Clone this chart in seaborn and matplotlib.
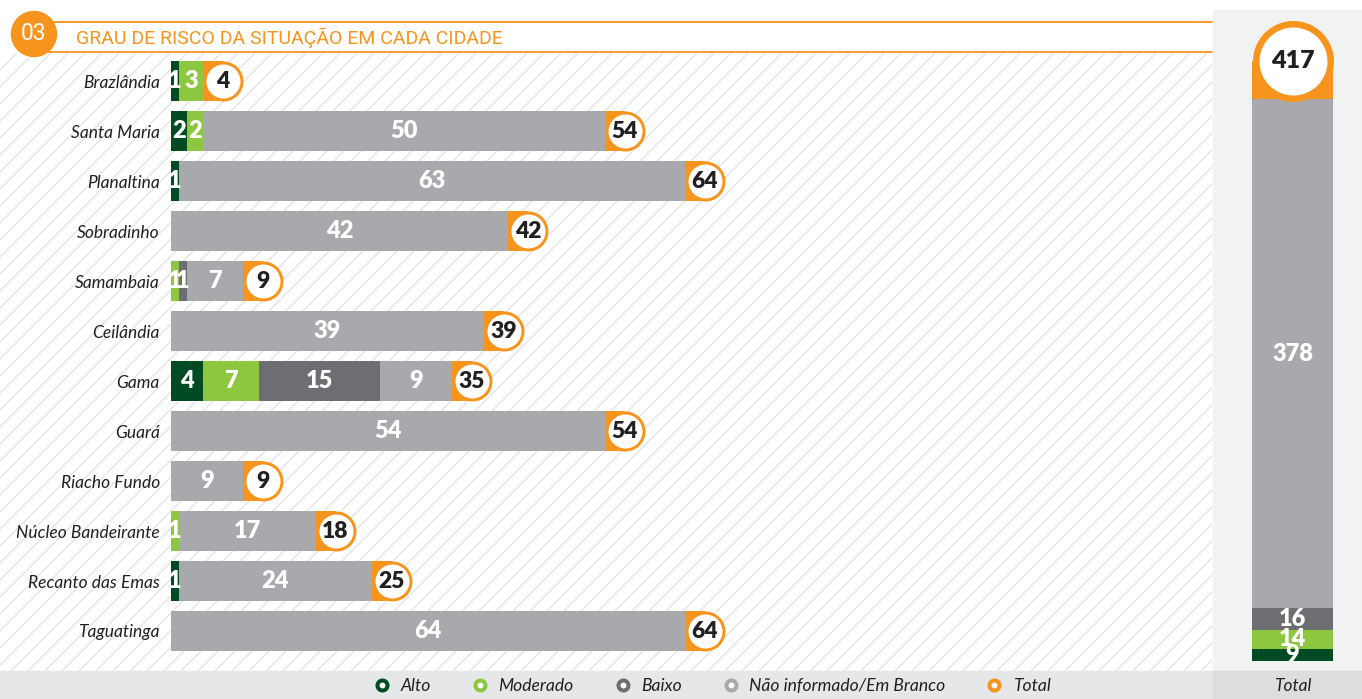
import numpy as np
import pandas as pd
import matplotlib
matplotlib.use("Agg")
import matplotlib.pyplot as plt
import seaborn as sns
from matplotlib.transforms import offset_copy
from matplotlib.patches import Rectangle, Circle
from matplotlib.lines import Line2D

# ---------------- data ----------------
cities = ["Brazlândia", "Santa Maria", "Planaltina", "Sobradinho", "Samambaia",
          "Ceilândia", "Gama", "Guará", "Riacho Fundo", "Núcleo Bandeirante",
          "Recanto das Emas", "Taguatinga"]
alto = [1, 2, 1, 0, 0, 0, 4, 0, 0, 0, 1, 0]
moderado = [3, 2, 0, 0, 1, 0, 7, 0, 0, 1, 0, 0]
baixo = [0, 0, 0, 0, 1, 0, 15, 0, 0, 0, 0, 0]
nao_informado = [0, 50, 63, 42, 7, 39, 9, 54, 9, 17, 24, 64]
totals = [4, 54, 64, 42, 9, 39, 35, 54, 9, 18, 25, 64]

series_names = ["Alto", "Moderado", "Baixo", "Não informado/Em Branco", "Total"]
overall = {"Alto": 9, "Moderado": 14, "Baixo": 16, "Não informado/Em Branco": 378}
grand_total = 417

title = "GRAU DE RISCO DA SITUAÇÃO EM CADA CIDADE"
section_no = "03"
total_label = "Total"

# ---------------- style ----------------
C_ALTO = "#004b23"
C_MOD = "#8dc63f"
C_BAIXO = "#6d6e71"
C_NAO = "#a7a9ac"
C_ORANGE = "#f7941d"
colors = [C_ALTO, C_MOD, C_BAIXO, C_NAO, C_ORANGE]
TXT = "#231f20"
NUM_W = "heavy"

sns.set_theme(style="white")
plt.rcParams["font.family"] = ["Lato", "DejaVu Sans"]

W, H = 1362, 699
fig = plt.figure(figsize=(W / 100, H / 100), dpi=100)
fig.patch.set_facecolor("white")


def px_rect(x0, y0, x1, y1):
    return [x0 / W, 1 - y1 / H, (x1 - x0) / W, (y1 - y0) / H]


PT = 0.72  # points per pixel at 100 dpi

# ---------------- background ----------------
bg = fig.add_axes([0, 0, 1, 1])
bg.set_xlim(0, W)
bg.set_ylim(H, 0)
bg.axis("off")

hx0, hy0, hx1, hy1 = 0, 53, 1212, 671
clip = Rectangle((hx0, hy0), hx1 - hx0, hy1 - hy0, transform=bg.transData,
                 facecolor="none", edgecolor="none")
bg.add_patch(clip)
span = hy1 - hy0
for x in np.arange(hx0 - span, hx1 + 20, 17):
    ln, = bg.plot([x, x + span], [hy1, hy0], color="#e2e2e2", lw=0.9, zorder=0)
    ln.set_clip_path(clip)

bg.add_patch(Rectangle((0, 671), 1212, H - 671, color="#e6e7e8", zorder=1))
bg.add_patch(Rectangle((1213, 10), W - 1213, 661, color="#f1f2f2", zorder=1))
bg.add_patch(Rectangle((1213, 671), W - 1213, H - 671, color="#dcddde", zorder=1))

# header
bg.plot([34, 1212], [22, 22], color=C_ORANGE, lw=1.3, zorder=2)
bg.plot([34, 1212], [52, 52], color=C_ORANGE, lw=1.3, zorder=2)
bg.add_patch(Circle((34, 34), 22.5, color=C_ORANGE, zorder=3))
bg.text(34, 34, section_no, color="white", fontsize=16.5, family=["Roboto", "DejaVu Sans"],
        fontweight="normal", ha="center", va="center", zorder=4)
bg.text(76, 38, title, color=C_ORANGE, fontsize=14.0, family=["Roboto", "DejaVu Sans"],
        fontweight="normal", ha="left", va="center", zorder=4)

bg.text(1293, 686, total_label, color=TXT, fontsize=12.5, fontstyle="italic",
        ha="center", va="center", zorder=4)

# ---------------- main bars ----------------
df = pd.DataFrame({"city": cities, "alto": alto, "moderado": moderado,
                   "baixo": baixo, "nao": nao_informado, "total": totals})
df["c1"] = df["alto"]
df["c2"] = df["c1"] + df["moderado"]
df["c3"] = df["c2"] + df["baixo"]
df["c4"] = df["c3"] + df["nao"]

PX_PER_UNIT = 8.03
ax = fig.add_axes(px_rect(171, 56, 1171, 656))
ax.patch.set_alpha(0)
for col, c in [("c4", C_NAO), ("c3", C_BAIXO), ("c2", C_MOD), ("c1", C_ALTO)]:
    sns.barplot(data=df, x=col, y="city", color=c, saturation=1, width=0.8,
                orient="h", errorbar=None, ax=ax, zorder=2, linewidth=0, edgecolor="none")
ax.set_xlim(0, 1000 / PX_PER_UNIT)
ax.set_ylim(len(cities) - 0.5, -0.5)
ax.set_xlabel("")
ax.set_ylabel("")
ax.set_xticks([])
for s in ax.spines.values():
    s.set_visible(False)
ax.tick_params(axis="y", length=0, pad=8, labelsize=12.5, labelcolor=TXT)
for t in ax.get_yticklabels():
    t.set_fontstyle("italic")

ys = np.arange(len(cities))
cap_w = 20 / PX_PER_UNIT
ax.barh(ys, cap_w, left=df["total"], height=0.8, color=C_ORANGE, zorder=3, linewidth=0)
tr = offset_copy(ax.transData, fig=fig, x=20 * PT, y=0, units="points")
ax.plot(df["total"], ys, "o", ms=40 * PT, color=C_ORANGE, mew=0, transform=tr, zorder=4, clip_on=False)
ax.plot(df["total"], ys, "o", ms=34 * PT, color="white", mew=0, transform=tr, zorder=5, clip_on=False)
for y, t in zip(ys, df["total"]):
    ax.text(t, y, str(t), transform=tr, ha="center", va="center", fontsize=16.5,
            fontweight=NUM_W, color=TXT, zorder=6, clip_on=False)

for i, row in df.iterrows():
    start = 0
    for col in ["alto", "moderado", "baixo", "nao"]:
        v = row[col]
        if v > 0:
            ax.text(start + v / 2, i, str(v), ha="center", va="center", fontsize=17,
                    fontweight=NUM_W, color="white", zorder=6)
        start += v

# ---------------- total column ----------------
PX_PER_UNIT_V = 509 / 378
ax2 = fig.add_axes(px_rect(1252, 21, 1333, 661))
ax2.patch.set_alpha(0)
cum = np.cumsum([overall[k] for k in series_names[:4]])
tdf = pd.DataFrame({"k": [total_label], "c1": [cum[0]], "c2": [cum[1]], "c3": [cum[2]], "c4": [cum[3]]})
for col, c in [("c4", C_NAO), ("c3", C_BAIXO), ("c2", C_MOD), ("c1", C_ALTO)]:
    sns.barplot(data=tdf, x="k", y=col, color=c, saturation=1, width=1.0,
                errorbar=None, ax=ax2, zorder=2, linewidth=0, edgecolor="none")
ax2.set_xlim(-0.5, 0.5)
ax2.set_ylim(0, 640 / PX_PER_UNIT_V)
ax2.axis("off")
cap_h = 38 / PX_PER_UNIT_V
ax2.bar(0, cap_h, bottom=grand_total, width=1.0, color=C_ORANGE, zorder=3, linewidth=0)
tr2 = offset_copy(ax2.transData, fig=fig, x=0, y=38 * PT, units="points")
ax2.plot([0], [grand_total], "o", ms=81 * PT, color=C_ORANGE, mew=0, transform=tr2, zorder=4, clip_on=False)
ax2.plot([0], [grand_total], "o", ms=68 * PT, color="white", mew=0, transform=tr2, zorder=5, clip_on=False)
ax2.text(0, grand_total, str(grand_total), transform=tr2, ha="center", va="center",
         fontsize=18, fontweight=NUM_W, color=TXT, zorder=6)
start = 0
for k in series_names[:4]:
    v = overall[k]
    ax2.text(0, start + v / 2, str(v), ha="center", va="center", fontsize=17,
             fontweight=NUM_W, color="white", zorder=6)
    start += v

# ---------------- legend ----------------
handles = [Line2D([], [], marker="o", ls="none", ms=7.2, mew=2.9, mfc="white", mec=c)
           for c in colors]
leg = fig.legend(handles, series_names, loc="center", ncol=5, frameon=False,
                 bbox_to_anchor=(712 / W, 1 - 686 / H), columnspacing=2.3,
                 handletextpad=0.55, handlelength=1.0,
                 prop={"size": 12.6, "style": "italic"})
for t in leg.get_texts():
    t.set_color(TXT)

fig.savefig("out.png", dpi=100)
